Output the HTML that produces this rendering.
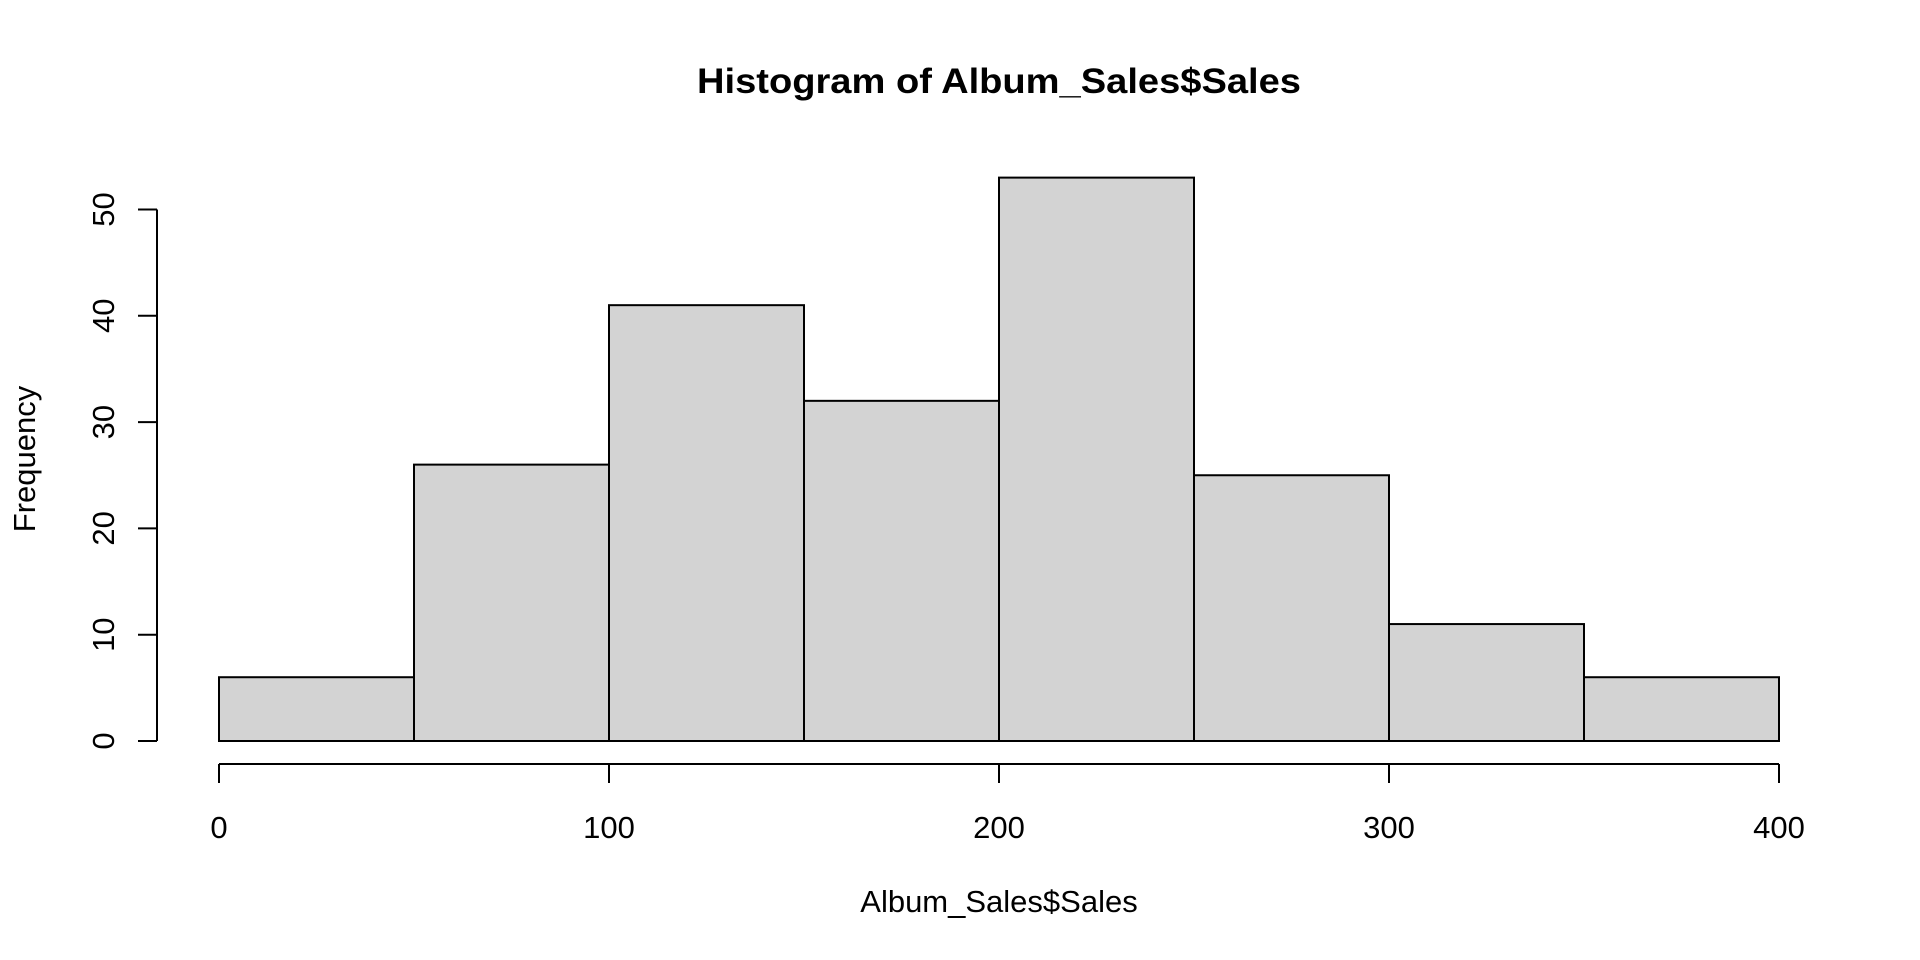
<!DOCTYPE html>
<html><head><meta charset="utf-8"><style>
html,body{margin:0;padding:0;background:#fff;}
svg{display:block;}
text{font-family:"Liberation Sans",sans-serif;fill:#000;}
</style></head><body>
<svg id="chart" width="1920" height="960" viewBox="0 0 1920 960">
<text x="999" y="93" text-anchor="middle" font-size="35" font-weight="bold" textLength="604" lengthAdjust="spacingAndGlyphs">Histogram of Album_Sales$Sales</text>
<g id="bars"></g>
<g id="xaxis"></g>
<g id="yaxis"></g>
<text x="999" y="912" text-anchor="middle" font-size="31">Album_Sales$Sales</text>
<text transform="translate(35,459) rotate(-90)" text-anchor="middle" font-size="31">Frequency</text>
</svg>
<script>
const binEdges = [0, 50, 100, 150, 200, 250, 300, 350, 400];
const counts = [6, 26, 41, 32, 53, 25, 11, 6];
const xTicks = [0, 100, 200, 300, 400];
const yTicks = [0, 10, 20, 30, 40, 50];

const NS = "http://www.w3.org/2000/svg";
const X0 = 219, X1 = 1779, Y0 = 741, YPER = 10.63;
function sx(v){ return X0 + (v - 0) / 400 * (X1 - X0); }
function sy(v){ return Y0 - v * YPER; }
function mk(tag, attrs, parent){
  const el = document.createElementNS(NS, tag);
  for (const k in attrs) el.setAttribute(k, attrs[k]);
  parent.appendChild(el);
  return el;
}
const bars = document.getElementById('bars');
counts.forEach((c, i) => {
  const x = sx(binEdges[i]), w = sx(binEdges[i+1]) - x;
  const r = mk('rect', {x: x, y: sy(c), width: w, height: Y0 - sy(c), fill: '#d3d3d3', stroke: '#000', 'stroke-width': 2}, bars);
  
  
});
const xa = document.getElementById('xaxis');
const xl = mk('line', {x1: sx(xTicks[0]), x2: sx(xTicks[xTicks.length-1]), y1: 764, y2: 764, stroke: '#000', 'stroke-width': 2}, xa);


xTicks.forEach(t => {
  const tk = mk('line', {x1: sx(t), x2: sx(t), y1: 764, y2: 783, stroke: '#000', 'stroke-width': 2}, xa);
  
  
  const lb = mk('text', {x: sx(t), y: 838, 'text-anchor': 'middle', 'font-size': 31}, xa);
  lb.textContent = t;
  
  
});
const ya = document.getElementById('yaxis');
const yl = mk('line', {x1: 157, x2: 157, y1: sy(yTicks[0]), y2: sy(yTicks[yTicks.length-1]), stroke: '#000', 'stroke-width': 2}, ya);


yTicks.forEach(t => {
  const tk = mk('line', {x1: 138, x2: 157, y1: sy(t), y2: sy(t), stroke: '#000', 'stroke-width': 2}, ya);
  
  
  const lb = mk('text', {transform: 'translate(114,' + sy(t) + ') rotate(-90)', 'text-anchor': 'middle', 'font-size': 31}, ya);
  lb.textContent = t;
  
  
});
</script>
</body></html>
